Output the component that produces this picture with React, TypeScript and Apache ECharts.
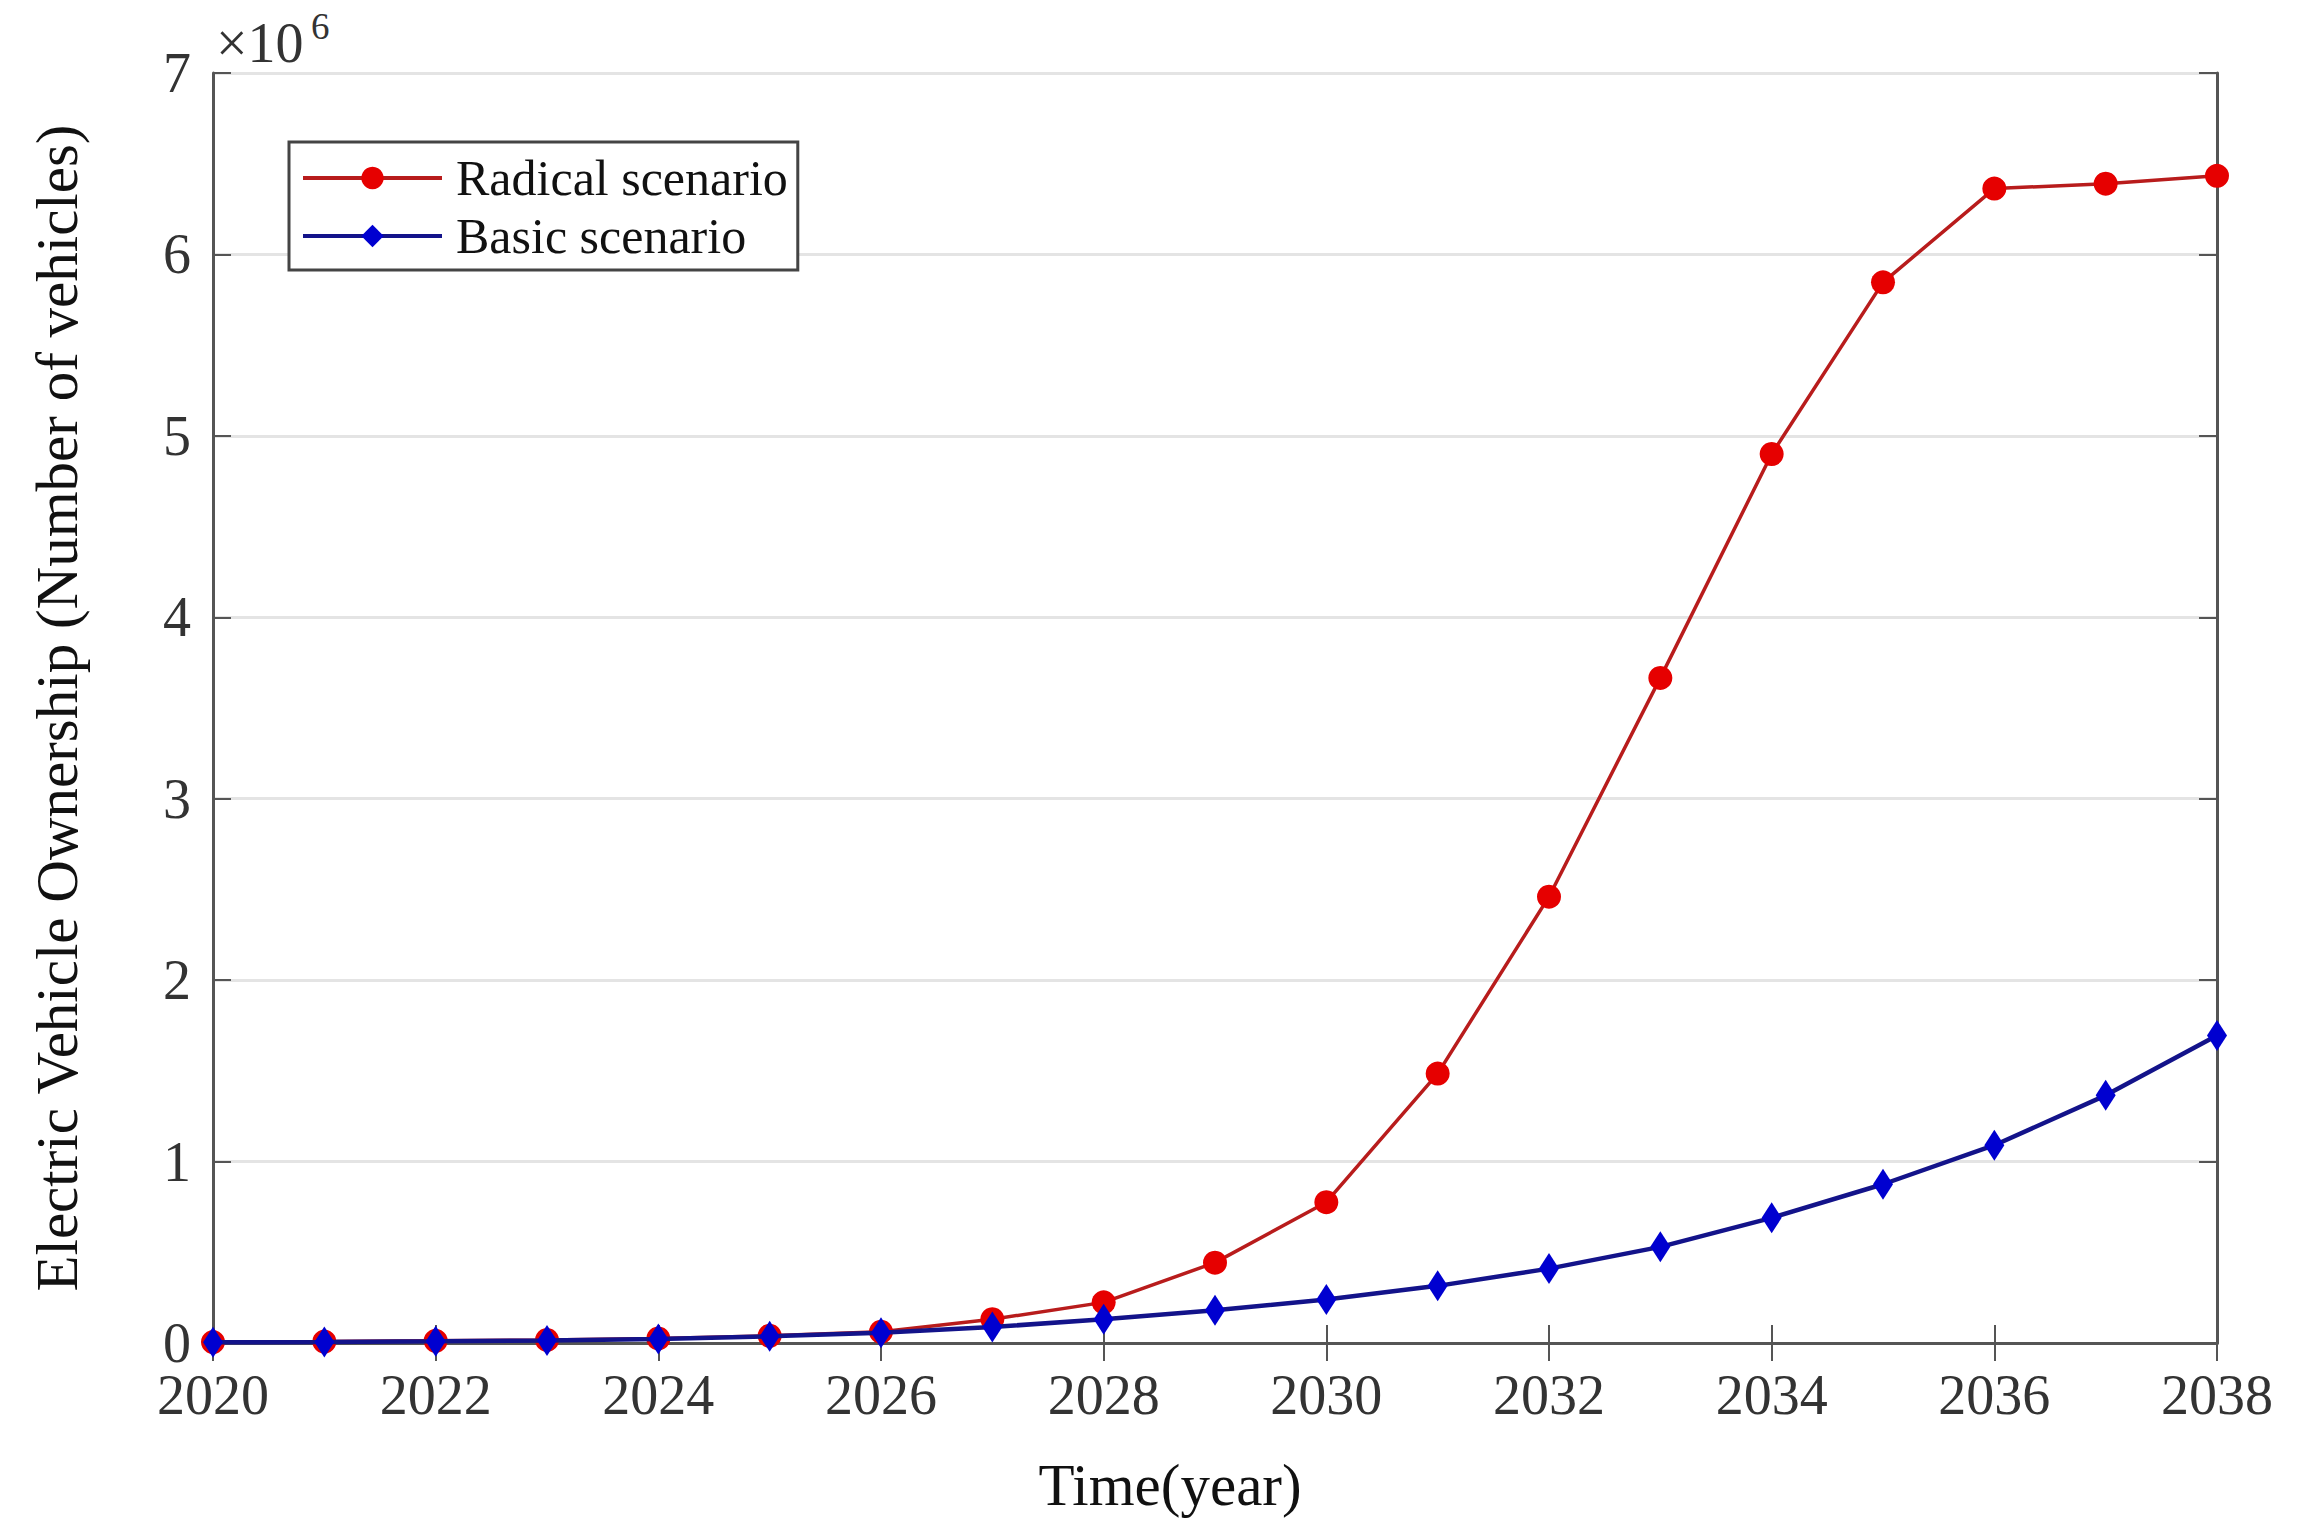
import React, { useEffect, useRef } from "react";
import * as echarts from "echarts";

const years: number[] = [2020, 2021, 2022, 2023, 2024, 2025, 2026, 2027, 2028, 2029, 2030, 2031, 2032, 2033, 2034, 2035, 2036, 2037, 2038];
// values in vehicles
const radical: number[] = [5000, 8000, 12000, 17000, 25000, 40000, 62000, 131000, 224000, 443000, 776000, 1485000, 2460000, 3666000, 4900000, 5846000, 6363000, 6390000, 6433000];
const basic: number[] = [4000, 6000, 9000, 14000, 22000, 37000, 56000, 88000, 131000, 180000, 240000, 315000, 410000, 530000, 690000, 875000, 1090000, 1365000, 1695000];
const seriesNames: string[] = ["Radical scenario", "Basic scenario"];
const xAxisName = "Time(year)";
const yAxisName = "Electric Vehicle Ownership (Number of vehicles)";
const FONT = "'Liberation Serif', 'Times New Roman', serif";

export default function App() {
  const ref = useRef<HTMLDivElement>(null);
  useEffect(() => {
    if (!ref.current) return;
    const chart = echarts.init(ref.current, undefined, { renderer: "svg" });
    const axisLine = { show: true, lineStyle: { color: "#555", width: 3 } };
    const tick = { show: true, inside: true, length: 18, lineStyle: { color: "#555", width: 2 } };
    chart.setOption({
      animation: false,
      backgroundColor: "#fff",
      textStyle: { fontFamily: FONT },
      grid: { left: 213, top: 73, width: 2004, height: 1270, containLabel: false },
      legend: {
        show: true,
        orient: "vertical",
        left: 289,
        top: 142,
        data: [
          { name: seriesNames[0], lineStyle: { width: 4 } },
          { name: seriesNames[1], lineStyle: { width: 4 } },
        ],
        itemWidth: 139,
        itemHeight: 28,
        itemGap: 8,
        padding: [11, 10, 9, 12],
        backgroundColor: "#fff",
        borderColor: "#444",
        borderWidth: 3,
        textStyle: { fontFamily: FONT, fontSize: 50, color: "#111", padding: [0, 0, 0, 9] },
      },
      graphic: [
        { type: "text", left: 216, top: 15, style: { text: "×10", fontFamily: FONT, fontSize: 56, fill: "#333" } },
        { type: "text", left: 311, top: 8, style: { text: "6", fontFamily: FONT, fontSize: 37, fill: "#333" } },
      ],
      xAxis: [
        {
          type: "value",
          position: "bottom",
          min: 2020,
          max: 2038,
          interval: 2,
          name: xAxisName,
          nameLocation: "middle",
          nameGap: 112,
          nameTextStyle: { fontFamily: FONT, fontSize: 59, color: "#111", padding: [0, 90, 0, 0] },
          axisLine,
          axisTick: tick,
          splitLine: { show: false },
          axisLabel: { fontFamily: FONT, fontSize: 56, color: "#333", margin: 24, formatter: (v: number) => String(v) },
        },
        {
          type: "value",
          position: "top",
          min: 2020,
          max: 2038,
          interval: 2,
          axisLine,
          axisTick: tick,
          splitLine: { show: false },
          axisLabel: { show: false },
        },
      ],
      yAxis: [
        {
          type: "value",
          position: "left",
          min: 0,
          max: 7000000,
          interval: 1000000,
          name: yAxisName,
          nameLocation: "middle",
          nameGap: 127,
          nameTextStyle: { fontFamily: FONT, fontSize: 59, color: "#111" },
          axisLine,
          axisTick: tick,
          splitLine: { show: true, lineStyle: { color: "#e4e4e4", width: 3 } },
          axisLabel: { fontFamily: FONT, fontSize: 56, color: "#333", margin: 22, formatter: (v: number) => String(Math.round(v / 1000000)) },
        },
        {
          type: "value",
          position: "right",
          min: 0,
          max: 7000000,
          interval: 1000000,
          axisLine,
          axisTick: tick,
          splitLine: { show: false },
          axisLabel: { show: false },
        },
      ],
      series: [
        {
          name: seriesNames[0],
          type: "line",
          data: years.map((y, i) => [y, radical[i]]),
          symbol: "circle",
          symbolSize: 24,
          lineStyle: { color: "#b81c1c", width: 3.5 },
          itemStyle: { color: "#e60000" },
          z: 2,
        },
        {
          name: seriesNames[1],
          type: "line",
          data: years.map((y, i) => [y, basic[i]]),
          symbol: "diamond",
          symbolSize: [20, 31],
          lineStyle: { color: "#13138a", width: 4.5 },
          itemStyle: { color: "#0000d0" },
          z: 3,
        },
      ],
    });
    return () => chart.dispose();
  }, []);
  return <div ref={ref} style={{ position: "fixed", left: 0, top: 0, width: 2299, height: 1535 }} />;
}
